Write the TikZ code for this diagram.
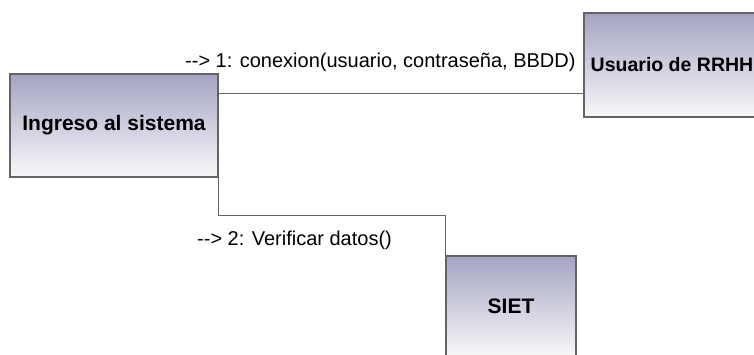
\documentclass[tikz,border=0pt]{standalone}
\usepackage{fontspec}
\setmainfont{Liberation Sans}
\definecolor{boxtop}{RGB}{164,164,194}
\definecolor{boxbot}{RGB}{248,248,250}
\definecolor{edge}{RGB}{100,100,100}
\tikzset{
  object/.style={draw=edge, line width=1.4pt, top color=boxtop, bottom color=boxbot,
    inner sep=0pt, font=\fontsize{21}{25}\selectfont\bfseries},
  link/.style={draw=edge, line width=1pt},
  msg/.style={inner sep=0pt, font=\fontsize{20}{24}\selectfont}
}
\begin{document}
\begin{tikzpicture}[x=1pt,y=-1pt]
\useasboundingbox (0,0) rectangle (754,354);

\node[object, minimum width=208pt, minimum height=103pt] (ingreso) at (114,125.5) {Ingreso al sistema};
\node[object, minimum width=176pt, minimum height=104pt, font=\fontsize{19.5}{24}\selectfont\bfseries] (usuario) at (672,65) {Usuario de RRHH};
\node[object, minimum width=130pt, minimum height=100pt] (siet) at (511,306) {SIET};

\draw[link] ([yshift=-20pt]ingreso.north east) -- ([yshift=-20pt]ingreso.north east -| usuario.west);
\draw[link] (ingreso.south east) -- ++(0,38) -| (siet.north west);

\node[msg, anchor=west] (conexion) at (185,62) {-{}-{}> 1: conexion(usuario, contraseña, BBDD)};
\node[msg, anchor=west] (verificar) at (197,240) {-{}-{}> 2: Verificar datos()};
\end{tikzpicture}
\end{document}
